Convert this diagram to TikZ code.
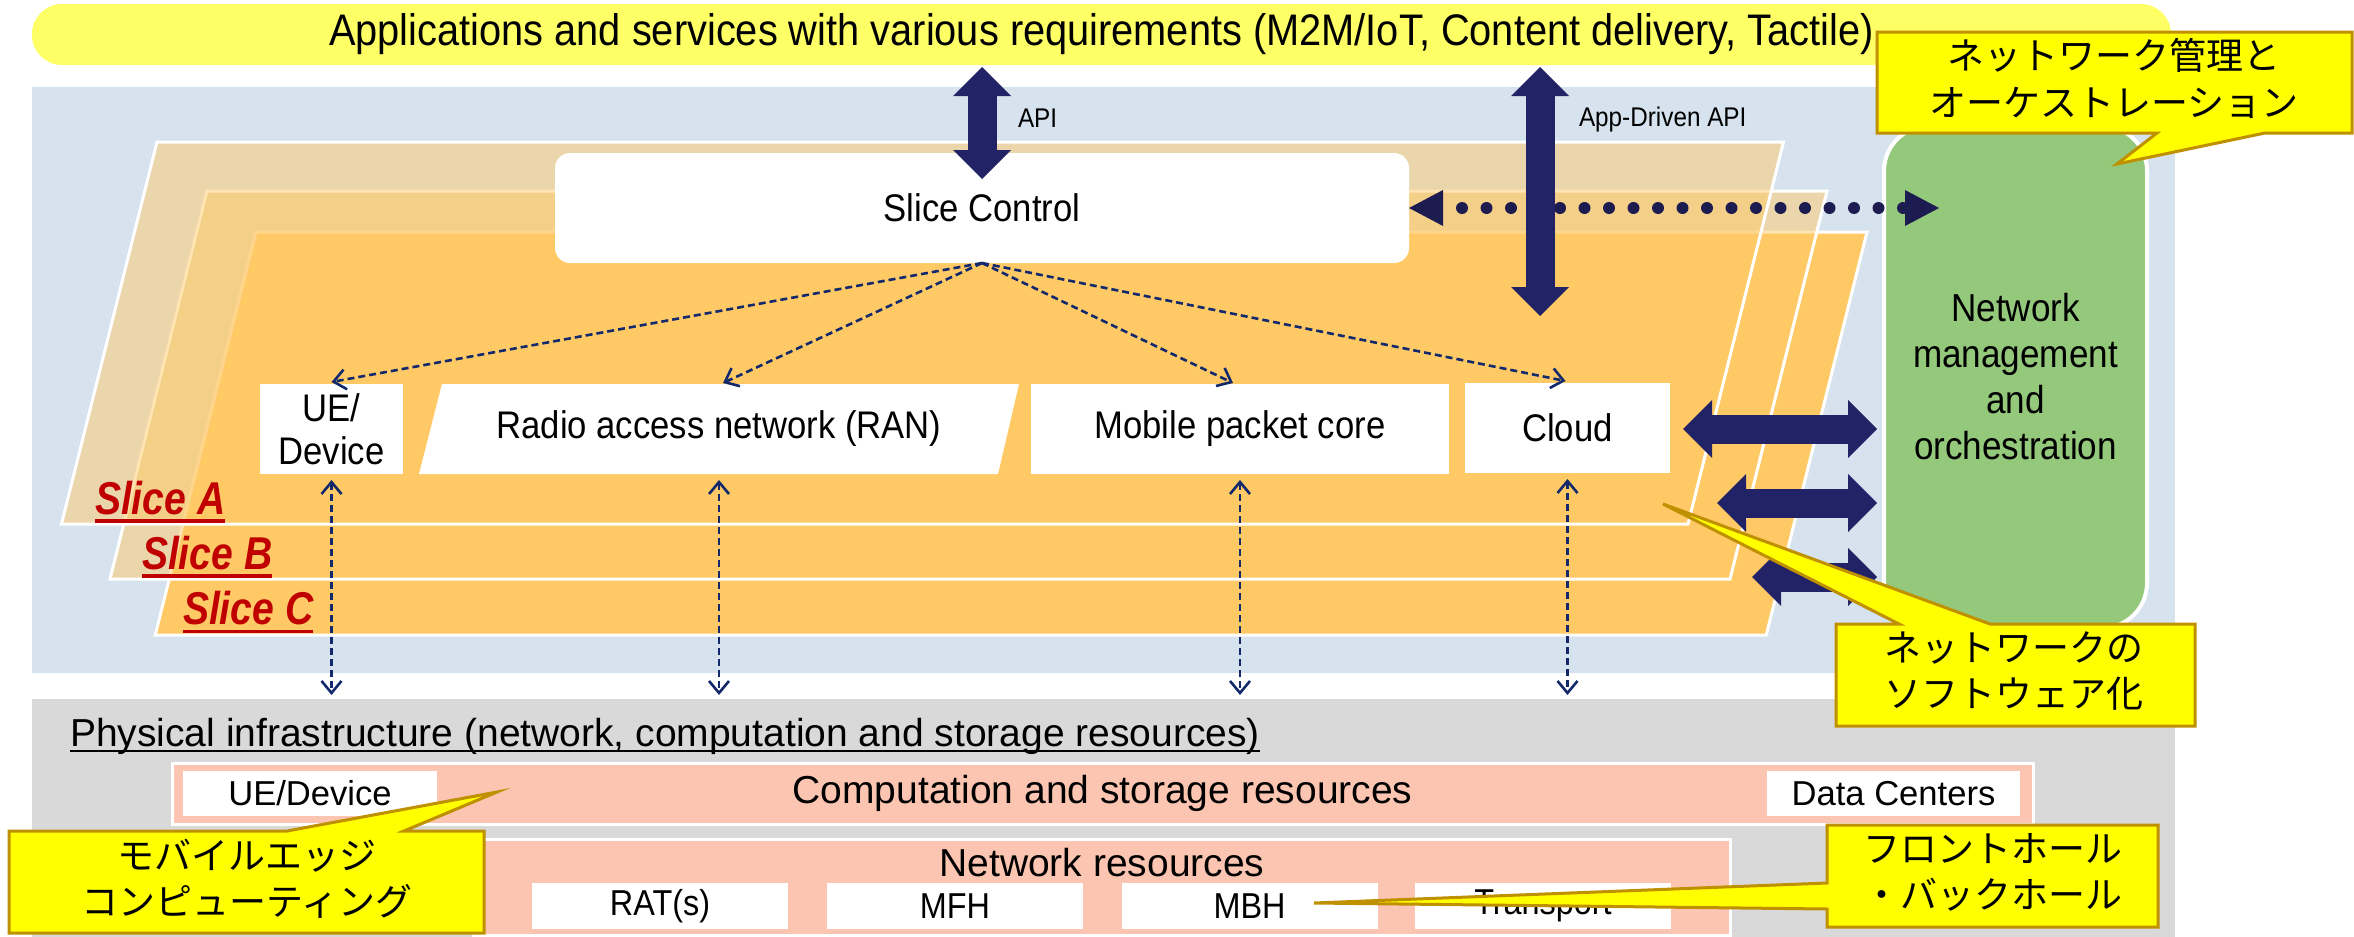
\documentclass[tikz,border=0pt]{standalone}
\usepackage{fontspec}
\setmainfont{Liberation Sans}[FakeStretch=0.9]
\newfontfamily\physfont{Liberation Sans}
\newfontfamily\slicefont{Liberation Sans}[FakeStretch=0.85]
\newfontfamily\jpfont{Noto Sans CJK JP}
\usetikzlibrary{arrows.meta}
\definecolor{titleY}{HTML}{FFFF66}
\definecolor{panelB}{HTML}{D6E3EF}
\definecolor{panelG}{HTML}{D9D9D9}
\definecolor{sliceO}{HTML}{FFCA66}
\definecolor{navyA}{HTML}{222266}
\definecolor{navyD}{HTML}{1C1C50}
\definecolor{dashN}{HTML}{13296B}
\definecolor{greenN}{HTML}{94C97B}
\definecolor{salmon}{HTML}{FBC5B1}
\definecolor{callY}{HTML}{FFFF00}
\definecolor{callB}{HTML}{BF9000}
\definecolor{sliceR}{HTML}{C00000}
\begin{document}
\begin{tikzpicture}[x=1pt,y=-1pt,
  every node/.style={inner sep=0pt,outer sep=0pt},
  titlebar/.style={fill=titleY, rounded corners=30pt, minimum width=2139pt, minimum height=61pt, font={\fontsize{44.2pt}{50pt}\selectfont}},
  slicebase/.style={draw=white, line width=3pt, line join=miter},
  sliceback/.style={slicebase, fill=sliceO, fill opacity=0.5},
  slicetxt/.style={anchor=base west, text=sliceR, font={\slicefont\bfseries\itshape\fontsize{46pt}{50pt}\selectfont}},
  sliceul/.style={draw=sliceR, line width=3.5pt},
  ctlbox/.style={fill=white, rounded corners=15pt, minimum width=854pt, minimum height=110pt, font={\fontsize{38.5pt}{44pt}\selectfont}},
  compbox/.style={fill=white, minimum height=90pt, align=center, font={\fontsize{38.5pt}{42.5pt}\selectfont}},
  comptext/.style={minimum height=90pt, font={\fontsize{38.5pt}{42.5pt}\selectfont}},
  dasharr/.style={draw=dashN, line width=2.6pt, dash pattern=on 7pt off 4pt, -{Straight Barb[length=12pt,width=20pt]}},
  dasharrtwo/.style={dasharr, {Straight Barb[length=12pt,width=20pt]}-{Straight Barb[length=12pt,width=20pt]}},
  blockarr/.style={draw=navyA, line width=29pt, {Triangle[length=29pt,width=58pt,line width=0pt]}-{Triangle[length=29pt,width=58pt,line width=0pt]}},
  dotarr/.style={draw=navyD, line width=12pt, line cap=round, dash pattern=on 0pt off 24.5pt, dash phase=5.5pt, {Triangle[length=34pt,width=36pt,line width=0pt]}-{Triangle[length=34pt,width=36pt,line width=0pt]}},
  mgmt/.style={fill=greenN, draw=white, line width=4pt, rounded corners=45pt, minimum width=263pt, minimum height=502pt, align=center, font={\fontsize{39pt}{46pt}\selectfont}},
  apilbl/.style={anchor=west, font={\fontsize{27pt}{30pt}\selectfont}},
  callout/.style={fill=callY, draw=callB, line width=3pt, line join=miter},
  jptxt/.style={align=center, font={\jpfont\fontsize{37pt}{46.5pt}\selectfont}},
  physbar/.style={fill=salmon, draw=white, line width=3pt},
  physbig/.style={font={\physfont\fontsize{39pt}{44pt}\selectfont}},
  physbox/.style={fill=white, minimum height=45pt, font={\physfont\fontsize{34.6pt}{40pt}\selectfont}},
  netbox/.style={fill=white, minimum height=46pt, minimum width=256pt, font={\fontsize{36pt}{40pt}\selectfont}}
]
\useasboundingbox (0,0) rectangle (2354,937);
\fill[white] (0,0) rectangle (2354,937);

% title bar
\node[titlebar] (title) at (1101.5,34.5) {Applications and services with various requirements (M2M/IoT, Content delivery, Tactile)};

% panels
\fill[panelB] (32,87) rectangle (2175,673);
\fill[panelG] (32,699) rectangle (2175,937);

% slices
\path[slicebase, fill=sliceO] (256,232) -- (1867,232) -- (1766.25,635) -- (155.25,635) -- cycle;
\path[sliceback] (207,191) -- (1827,191) -- (1730,579) -- (110,579) -- cycle;
\path[sliceback] (157,142) -- (1783.5,142) -- (1688,524) -- (61.5,524) -- cycle;

\node[slicetxt] (sla) at (95,514) {Slice A};
\draw[sliceul] ([yshift=-7pt]sla.base west) -- ([yshift=-7pt]sla.base east);
\node[slicetxt] (slb) at (142,569) {Slice B};
\draw[sliceul] ([yshift=-7pt]slb.base west) -- ([yshift=-7pt]slb.base east);
\node[slicetxt] (slc) at (183,624.5) {Slice C};
\draw[sliceul] ([yshift=-7pt]slc.base west) -- ([yshift=-7pt]slc.base east);

% slice control and components
\node[ctlbox] (sc) at (982,208) {Slice Control};
\node[compbox, minimum width=143pt] (ue) at (331.5,429) {UE/\\Device};
\fill[white] (442,384) -- (1019,384) -- (998,474) -- (419,474) -- cycle;
\node[comptext, minimum width=600pt] (ran) at (719,429) {Radio access network (RAN)};
\node[compbox, minimum width=418pt] (mpc) at (1240,429) {Mobile packet core};
\node[compbox, minimum width=205pt] (cloud) at (1567.5,428) {Cloud};

% dashed control arrows
\draw[dasharr] (sc.south) -- ([yshift=2pt]ue.north);
\draw[dasharr] (sc.south) -- ([xshift=4pt,yshift=1pt]ran.north);
\draw[dasharr] (sc.south) -- ([xshift=-7pt,yshift=1pt]mpc.north);
\draw[dasharr] (sc.south) -- ([xshift=-2pt,yshift=2pt]cloud.north);

% vertical dashed arrows to physical layer
\coordinate (physTop) at (0,695);
\draw[dasharrtwo] ([yshift=-6pt]ue.south) -- (ue.south |- physTop);
\draw[dasharrtwo] ([yshift=-6pt]ran.south) -- (ran.south |- physTop);
\draw[dasharrtwo] ([yshift=-6pt]mpc.south) -- (mpc.south |- physTop);
\draw[dasharrtwo] ([yshift=-6pt]cloud.south) -- (cloud.south |- physTop);

% management block
\node[mgmt] (gn) at (2015.5,377) {Network\\management\\and\\orchestration};

% dotted arrow
\draw[dotarr, shorten >=-55pt] (sc.east) -- (sc.east -| gn.west);

% block arrows
\path (title.south -| sc.north) coordinate (apiTop);
\draw[blockarr] ([yshift=-2pt]apiTop) -- ([yshift=-26pt]sc.north);
\node[apilbl] (apil) at (1018,118) {API};
\coordinate (appEnd) at (1540,316);
\path (title.south -| appEnd) coordinate (appTop);
\draw[blockarr] ([yshift=-2pt]appTop) -- (appEnd);
\node[apilbl] (appl) at (1579,120) {App-Driven API};
\coordinate (h1) at (1683,429);
\coordinate (h2) at (1717,503);
\coordinate (h3) at (1752,577);
\path (gn.west |- h1) coordinate (g1);
\path (gn.west |- h2) coordinate (g2);
\path (gn.west |- h3) coordinate (g3);
\draw[blockarr] (h1) -- ([xshift=-7pt]g1);
\draw[blockarr] (h2) -- ([xshift=-7pt]g2);
\draw[blockarr] (h3) -- ([xshift=-7pt]g3);

% physical infrastructure
\node[physbig, anchor=base west] (phys) at (70,746.7) {Physical infrastructure (network, computation and storage resources)};
\draw[line width=2pt] ([yshift=-4.5pt]phys.base west) -- ([yshift=-4.5pt]phys.base east);
\node[physbar, physbig, minimum width=1861pt, minimum height=61pt] (comp) at (1102.5,793.5) {Computation and storage resources};
\node[physbox, minimum width=254pt] (ued) at (310,793.5) {UE/Device};
\node[physbox, minimum width=253pt] (dc) at (1893.5,793.5) {Data Centers};
\node[physbar, minimum width=1257pt, minimum height=96pt] (net) at (1101.5,887) {};
\node[physbig] (nettxt) at (1102,863) {Network resources};
\node[netbox] (rat) at (660,906) {RAT(s)};
\node[netbox] (mfh) at (955,906) {MFH};
\node[netbox] (mbh) at (1249.5,906) {MBH};
\node[netbox] (trp) at (1543,906) {Transport};

% callouts
\path[callout] (1877,32) -- (2352,32) -- (2352,133) -- (2265,133) -- (2117,164) -- (2157,133) -- (1877,133) -- cycle;
\node[jptxt] (c1) at (2114,78.5) {ネットワーク管理と\\オーケストレーション};
\path[callout] (1836,624) -- (1899,624) -- (1663,504) -- (1990,624) -- (2195,624) -- (2195,726) -- (1836,726) -- cycle;
\node[jptxt] (c2) at (2014,671) {ネットワークの\\ソフトウェア化};
\path[callout] (9,831) -- (287,831) -- (497,792) -- (404,831) -- (484,831) -- (484,933) -- (9,933) -- cycle;
\node[jptxt] (c3) at (247,879) {モバイルエッジ\\コンピューティング};
\path[callout] (1827,825) -- (2158,825) -- (2158,927) -- (1827,927) -- (1827,909) -- (1314,903) -- (1827,883) -- cycle;
\node[jptxt] (c4) at (1993,872.5) {フロントホール\\・バックホール};
\end{tikzpicture}
\end{document}
